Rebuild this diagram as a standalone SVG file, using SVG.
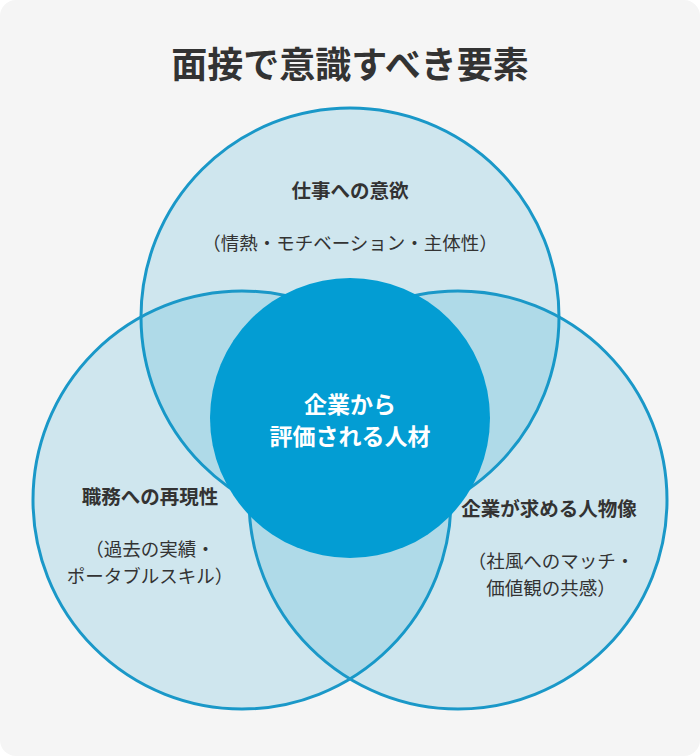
<svg xmlns="http://www.w3.org/2000/svg" width="700" height="756" viewBox="0 0 700 756">
<style>
.c{fill:#0c9acc;fill-opacity:0.16;stroke:#1a98c8;stroke-width:3}
text{font-family:"Noto Sans CJK JP","Noto Sans",sans-serif;fill:#333;text-anchor:middle}
.h{font-weight:bold;font-size:19.5px}
.s{font-size:18.5px}
.w{fill:#fff;font-weight:bold;font-size:23px}
</style>
<rect width="700" height="756" rx="16" fill="#f5f5f5"/>
<text x="350" y="78" font-size="36" font-weight="bold">面接で意識すべき要素</text>
<g id="circles">
<g id="top"><circle class="c" cx="350" cy="317" r="209"/></g>
<g id="left"><circle class="c" cx="242" cy="500" r="209"/></g>
<g id="right"><circle class="c" cx="458" cy="500" r="209"/></g>
<g id="center"><circle cx="350" cy="418" r="140" fill="#039dd3"/>
<text class="w" x="350" y="413">企業から</text>
<text class="w" x="350" y="445">評価される人材</text></g>
</g>
<g id="labels">
<text class="h" x="350" y="198">仕事への意欲</text>
<text class="s" x="350" y="250">（情熱・モチベーション・主体性）</text>
<text class="h" x="150" y="504">職務への再現性</text>
<text class="s" x="150" y="556">（過去の実績・</text>
<text class="s" x="150" y="583">ポータブルスキル）</text>
<text class="h" x="549" y="516">企業が求める人物像</text>
<text class="s" x="551" y="568">（社風へのマッチ・</text>
<text class="s" x="551" y="595">価値観の共感）</text>
</g>
<g id="connectors"/>
</svg>
